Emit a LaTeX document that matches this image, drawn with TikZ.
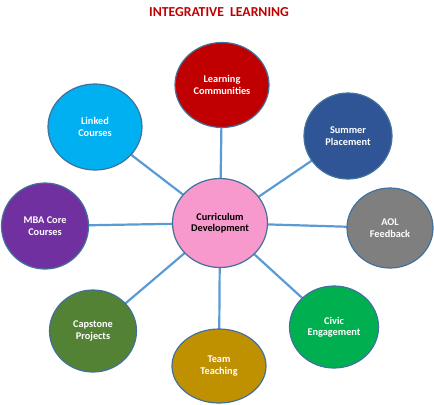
\documentclass[tikz,border=0pt]{standalone}
\usepackage{fontspec}
\setmainfont{Carlito}[BoldFont={Carlito Bold}]
\usetikzlibrary{shapes.geometric,backgrounds}

\definecolor{titlered}{HTML}{C00000}
\definecolor{rimblue}{HTML}{41719C}
\definecolor{spokeblue}{HTML}{5B9BD5}
\definecolor{lcred}{HTML}{C00000}
\definecolor{spblue}{HTML}{2F5597}
\definecolor{aolgray}{HTML}{7F7F7F}
\definecolor{cegreen}{HTML}{00B050}
\definecolor{ttgold}{HTML}{BF9000}
\definecolor{cpolive}{HTML}{548235}
\definecolor{mbapurple}{HTML}{7030A0}
\definecolor{lkcyan}{HTML}{00B0F0}
\definecolor{cdpink}{HTML}{F799CC}

\tikzset{
  bubble/.style={ellipse, draw=rimblue, line width=1.2bp, inner sep=0pt,
    align=center, font=\bfseries\fontsize{10.3bp}{11.5bp}\selectfont},
  outer/.style={bubble, text=white},
  spoke/.style={draw=spokeblue, line width=2.2bp}
}

\begin{document}
\begin{tikzpicture}[x=1bp,y=-1bp]
\useasboundingbox (0,0) rectangle (434,404);

\node[font=\bfseries\fontsize{13.7bp}{15bp}\selectfont, text=titlered] (title) at (219,12.5)
{INTEGRATIVE\ \ LEARNING};

\node[bubble, fill=cdpink, minimum width=95bp, minimum height=89bp] (cd) at (220,223)
{Curriculum\\Development};

\node[outer, fill=lcred, minimum width=94bp, minimum height=85bp] (lc) at (222,85)
{Learning\\Communities};
\node[outer, fill=spblue, minimum width=88bp, minimum height=86bp] (sp) at (348,136)
{Summer\\Placement};
\node[outer, fill=aolgray, minimum width=86bp, minimum height=80bp] (aol) at (390,228)
{AOL\\Feedback};
\node[outer, fill=cegreen, minimum width=89bp, minimum height=82bp] (ce) at (334,327)
{Civic\\Engagement};
\node[outer, fill=ttgold, minimum width=94bp, minimum height=74bp] (tt) at (219,366)
{Team\\Teaching};
\node[outer, fill=cpolive, minimum width=87bp, minimum height=82bp] (cp) at (93,331)
{Capstone\\Projects};
\node[outer, fill=mbapurple, minimum width=87bp, minimum height=86bp] (mba) at (45,226)
{MBA Core\\Courses};
\node[outer, fill=lkcyan, minimum width=94bp, minimum height=86bp] (lk) at (95,127)
{Linked\\Courses};

\begin{scope}[on background layer]
\draw[spoke] (cd.center) -- (lc.center);
\draw[spoke] (cd.center) -- (sp.center);
\draw[spoke] (cd.center) -- (aol.center);
\draw[spoke] (cd.center) -- (ce.center);
\draw[spoke] (cd.center) -- (tt.center);
\draw[spoke] (cd.center) -- (cp.center);
\draw[spoke] (cd.center) -- (mba.center);
\draw[spoke] (cd.center) -- (lk.center);
\end{scope}
\end{tikzpicture}
\end{document}
